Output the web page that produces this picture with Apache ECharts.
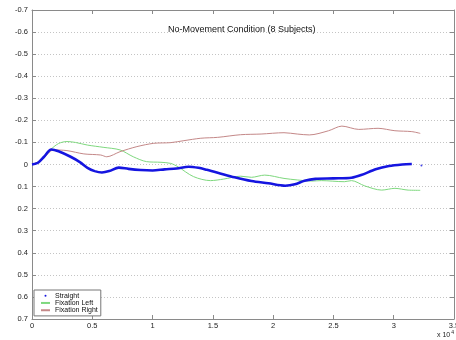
<!DOCTYPE html>
<html>
<head>
<meta charset="utf-8">
<script src="https://cdn.jsdelivr.net/npm/echarts@6/dist/echarts.min.js"></script>
<style>html,body{margin:0;padding:0;background:#fff}#c{width:456px;height:340px}</style>
</head>
<body>
<div id="c"></div>
<script>
const titleText = 'No-Movement Condition (8 Subjects)';
const seriesNames = ['Straight', 'Fixation Left', 'Fixation Right'];
const xTicks = [0, 0.5, 1, 1.5, 2, 2.5, 3, 3.5];

const straightX = [0, 0.05, 0.1, 0.16, 0.22, 0.32, 0.4, 0.46, 0.52, 0.58, 0.64, 0.72, 0.8, 0.9, 1.0, 1.1, 1.2, 1.3, 1.38, 1.45, 1.54, 1.68, 1.82, 1.96, 2.1, 2.18, 2.26, 2.35, 2.5, 2.65, 2.73, 2.85, 2.96, 3.07, 3.15];
const straightY = [0, -0.008, -0.035, -0.068, -0.06, -0.035, -0.01, 0.015, 0.03, 0.036, 0.03, 0.014, 0.02, 0.025, 0.027, 0.022, 0.018, 0.01, 0.015, 0.024, 0.037, 0.058, 0.075, 0.085, 0.096, 0.09, 0.074, 0.065, 0.063, 0.06, 0.048, 0.022, 0.007, 0.0, -0.002];
const straightDotX = [3.23];
const straightDotY = [0.005];

const leftX = [0, 0.08, 0.15, 0.22, 0.29, 0.36, 0.46, 0.59, 0.73, 0.84, 0.95, 1.07, 1.15, 1.21, 1.34, 1.48, 1.59, 1.73, 1.82, 1.93, 2.09, 2.2, 2.32, 2.4, 2.59, 2.65, 2.76, 2.9, 3.01, 3.12, 3.22];
const leftY = [0, -0.02, -0.065, -0.095, -0.104, -0.1, -0.088, -0.078, -0.066, -0.035, -0.013, -0.01, -0.005, 0.01, 0.055, 0.073, 0.066, 0.053, 0.058, 0.048, 0.063, 0.07, 0.075, 0.073, 0.078, 0.073, 0.097, 0.116, 0.108, 0.116, 0.117];

const rightX = [0, 0.08, 0.18, 0.29, 0.43, 0.57, 0.62, 0.73, 0.87, 1.01, 1.15, 1.26, 1.4, 1.54, 1.73, 1.9, 2.09, 2.2, 2.3, 2.46, 2.57, 2.71, 2.87, 3.01, 3.15, 3.22];
const rightY = [0, -0.02, -0.066, -0.063, -0.048, -0.043, -0.035, -0.058, -0.081, -0.096, -0.099, -0.108, -0.119, -0.123, -0.135, -0.138, -0.144, -0.138, -0.134, -0.153, -0.174, -0.159, -0.164, -0.153, -0.149, -0.141];

const zip = (xs, ys) => xs.map((x, i) => [x, ys[i]]);
const FONT = 'Liberation Sans, Arial, sans-serif';
const axisGray = '#8a8a8a';

const chart = echarts.init(document.getElementById('c'), null, {renderer: 'canvas'});
chart.setOption({
  animation: false,
  backgroundColor: '#fff',
  title: {
    text: titleText, left: 163, top: 20,
    textStyle: {fontFamily: FONT, fontSize: 9, fontWeight: 'normal', color: '#111'}
  },
  grid: {left: 32, right: 2, top: 10, bottom: 21, containLabel: false, outerBoundsMode: 'none'},
  legend: {
    orient: 'vertical', left: 34, top: 290,
    padding: [2, 3, 2, 7], itemGap: 0, itemWidth: 9, itemHeight: 2,
    backgroundColor: '#fff', borderColor: '#777', borderWidth: 1, borderRadius: 0,
    textStyle: {fontFamily: FONT, fontSize: 7, color: '#111', lineHeight: 7.3},
    data: [
      {name: seriesNames[0], icon: 'circle', itemStyle: {color: '#1515e0'}},
      {name: seriesNames[1], icon: 'rect', itemStyle: {color: '#7ed87e'}},
      {name: seriesNames[2], icon: 'rect', itemStyle: {color: '#c48888'}}
    ]
  },
  xAxis: [{
    type: 'value', min: 0, max: 3.5, interval: 0.5,
    axisLine: {show: true, onZero: false, lineStyle: {color: axisGray, width: 1}},
    axisTick: {show: true, inside: true, length: 4, lineStyle: {color: axisGray}},
    axisLabel: {fontFamily: FONT, fontSize: 7.5, color: '#222', margin: 3, showMaxLabel: true, hideOverlap: false,
      formatter: v => String(Math.round(v * 10) / 10)},
    splitLine: {show: false}
  }, {
    type: 'value', min: 0, max: 3.5, interval: 0.5, position: 'top',
    axisLine: {show: true, onZero: false, lineStyle: {color: axisGray, width: 1}},
    axisTick: {show: true, inside: true, length: 4, lineStyle: {color: axisGray}},
    axisLabel: {show: false}, splitLine: {show: false}
  }],
  yAxis: [{
    type: 'value', inverse: true, min: -0.7, max: 0.7, interval: 0.1,
    axisLine: {show: true, onZero: false, lineStyle: {color: axisGray, width: 1}},
    axisTick: {show: true, inside: true, length: 4, lineStyle: {color: axisGray}},
    axisLabel: {fontFamily: FONT, fontSize: 7.5, color: '#222', margin: 4,
      formatter: v => String(Math.round(v * 10) / 10)},
    splitLine: {show: true, lineStyle: {color: '#c4c4c4', type: [1, 2], width: 1}}
  }, {
    type: 'value', inverse: true, min: -0.7, max: 0.7, interval: 0.1, position: 'right',
    axisLine: {show: true, onZero: false, lineStyle: {color: axisGray, width: 1}},
    axisTick: {show: true, inside: true, length: 4, lineStyle: {color: axisGray}},
    axisLabel: {show: false}, splitLine: {show: false}
  }],
  series: [
    {name: seriesNames[1], type: 'line', data: zip(leftX, leftY), smooth: 0.3, showSymbol: false,
      lineStyle: {color: '#7ed87e', width: 1}, itemStyle: {color: '#7ed87e'}, z: 2},
    {name: seriesNames[2], type: 'line', data: zip(rightX, rightY), smooth: 0.3, showSymbol: false,
      lineStyle: {color: '#c48888', width: 1}, itemStyle: {color: '#c48888'}, z: 2},
    {name: seriesNames[0], type: 'line', data: zip(straightX, straightY), smooth: 0.3, showSymbol: false,
      lineStyle: {color: '#1515e0', width: 2.6}, itemStyle: {color: '#1515e0'}, z: 3},
    {name: seriesNames[0], type: 'scatter', data: zip(straightDotX, straightDotY), symbol: 'circle', symbolSize: 2,
      itemStyle: {color: '#1515e0'}, z: 3}
  ],
  graphic: [{
    type: 'text', left: 437, top: 330,
    style: {
      text: 'x 10{s|4}', fontFamily: FONT, fontSize: 7, fill: '#222',
      rich: {s: {fontSize: 5, verticalAlign: 'top', padding: [0, 0, 5, 1], fontFamily: FONT, fill: '#222'}}
    }
  }]
});
</script>
</body>
</html>
